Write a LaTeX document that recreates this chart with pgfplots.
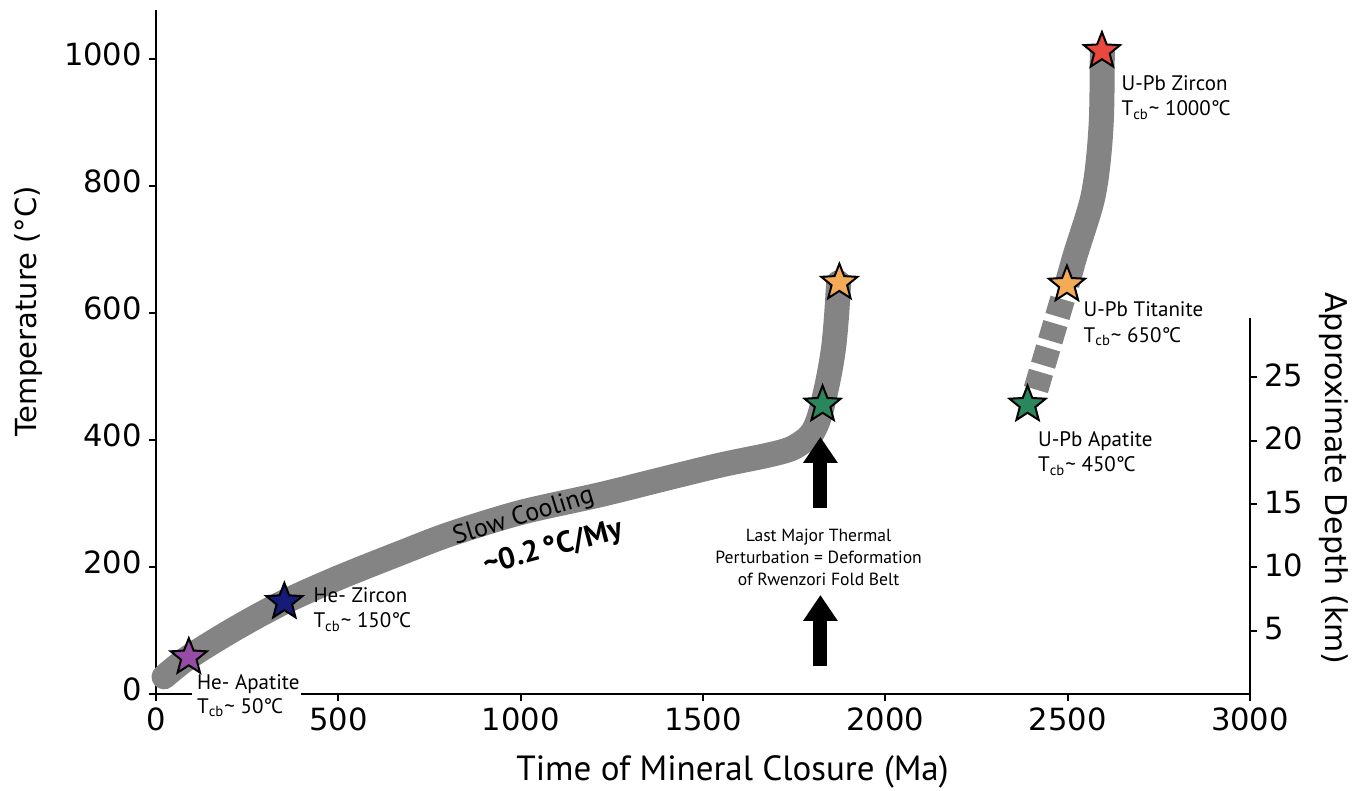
\documentclass[border=0pt]{standalone}
\usepackage{fontspec}
\setmainfont{PT Sans}
\newfontfamily\dejavu{DejaVu Sans}
\usepackage{pgfplots}
\pgfplotsset{compat=1.18}
\usetikzlibrary{arrows.meta}

\definecolor{band}{RGB}{132,132,132}
\definecolor{sPurple}{RGB}{150,75,165}
\definecolor{sNavy}{RGB}{20,28,120}
\definecolor{sGreen}{RGB}{42,135,92}
\definecolor{sOrange}{RGB}{245,170,85}
\definecolor{sRed}{RGB}{232,72,62}

\pgfdeclareplotmark{fstar}{%
 \pgfpathmoveto{\pgfpointpolar{90}{\pgfplotmarksize}}%
 \pgfpathlineto{\pgfpointpolar{126}{0.43\pgfplotmarksize}}%
 \pgfpathlineto{\pgfpointpolar{162}{\pgfplotmarksize}}%
 \pgfpathlineto{\pgfpointpolar{198}{0.43\pgfplotmarksize}}%
 \pgfpathlineto{\pgfpointpolar{234}{\pgfplotmarksize}}%
 \pgfpathlineto{\pgfpointpolar{270}{0.43\pgfplotmarksize}}%
 \pgfpathlineto{\pgfpointpolar{306}{\pgfplotmarksize}}%
 \pgfpathlineto{\pgfpointpolar{342}{0.43\pgfplotmarksize}}%
 \pgfpathlineto{\pgfpointpolar{18}{\pgfplotmarksize}}%
 \pgfpathlineto{\pgfpointpolar{54}{0.43\pgfplotmarksize}}%
 \pgfpathclose
 \pgfusepathqfillstroke}

\newcommand\ann{\fontsize{10.5}{12}\selectfont}
\newcommand\Tcb{T\textsubscript{cb}}
\newcommand\degC{{°\kern-.06em C}}

\begin{document}
\begin{tikzpicture}
\begin{axis}[
 at={(0,0)}, anchor=south west,
 scale only axis, width=547pt, height=342pt,
 xmin=0, xmax=3000, ymin=0, ymax=1077.7,
 axis x line=bottom, axis y line=left,
 axis line style={-, line width=1.4pt},
 xtick={0,500,...,3000}, ytick={0,200,...,1000},
 tick align=outside, major tick length=3.5pt,
 tick style={line width=1pt, black},
 tick label style={font=\dejavu\fontsize{15.3}{18}\selectfont},
 yticklabel style={yshift=2.5pt},
 /pgf/number format/assume math mode=true,
 /pgf/number format/1000 sep={},
 clip=false,
]
% main cooling path
\addplot[band, line width=12.5pt, line cap=round, line join=round, smooth, tension=0.5]
 coordinates {(22,27) (90,58) (220,104) (352,145) (500,183) (670,222) (807,252)
 (1000,286) (1218,314) (1400,340) (1550,361) (1676,376) (1740,386) (1780,400)
 (1800,412) (1815,430) (1828,456) (1845,500) (1858,545) (1866,594) (1872,648)};
% right path
\addplot[band, line width=12.5pt, line cap=butt, line join=round, smooth, tension=0.5]
 coordinates {(2498,645) (2520,690) (2540,726) (2556,755) (2568,780) (2577,808)
 (2583,835) (2588,865) (2592,900) (2594,940) (2595,1013)};
\addplot[band, line width=12.5pt, line cap=butt, dash pattern=on 9pt off 3.7pt]
 coordinates {(2486,622) (2410,474)};
% stars
\addplot[only marks, mark=fstar, mark size=9.5pt, mark options={fill=sPurple, draw=black, line width=1pt}] coordinates {(90,58)};
\addplot[only marks, mark=fstar, mark size=9.5pt, mark options={fill=sNavy, draw=black, line width=1pt}] coordinates {(352,145)};
\addplot[only marks, mark=fstar, mark size=9.5pt, mark options={fill=sGreen, draw=black, line width=1pt}] coordinates {(1828,456) (2390,456)};
\addplot[only marks, mark=fstar, mark size=9.5pt, mark options={fill=sOrange, draw=black, line width=1pt}] coordinates {(1874,648) (2498,645)};
\addplot[only marks, mark=fstar, mark size=9.5pt, mark options={fill=sRed, draw=black, line width=1pt}] coordinates {(2594,1013)};
% arrows
\draw[line width=7pt, -{Triangle[width=16.5pt,length=13pt]}] (axis cs:1822,293) -- (axis cs:1822,405);
\draw[line width=7pt, -{Triangle[width=16.5pt,length=13pt]}] (axis cs:1822,44) -- (axis cs:1822,156);
% labels
\fill[white] (axis cs:100,-7) rectangle (axis cs:398,7);
\node[anchor=base west, font=\ann, inner sep=0pt] at (axis cs:111.7,6.3) {He- Apatite};
\node[anchor=base west, font=\ann, inner sep=0pt] at (axis cs:111.7,-30.2) {\Tcb\textasciitilde\ 50\degC};
\node[anchor=base west, font=\ann, inner sep=0pt] at (axis cs:431,143.4) {He- Zircon};
\node[anchor=base west, font=\ann, inner sep=0pt] at (axis cs:431,104) {\Tcb\textasciitilde\ 150\degC};
\node[anchor=base west, font=\ann, inner sep=0pt] at (axis cs:2647,950.5) {U-Pb Zircon};
\node[anchor=base west, font=\ann, inner sep=0pt] at (axis cs:2647,910.7) {\Tcb\textasciitilde\ 1000\degC};
\node[anchor=base west, font=\ann, inner sep=0pt] at (axis cs:2543,594.5) {U-Pb Titanite};
\node[anchor=base west, font=\ann, inner sep=0pt] at (axis cs:2543,553.5) {\Tcb\textasciitilde\ 650\degC};
\node[anchor=base west, font=\ann, inner sep=0pt] at (axis cs:2418,389.6) {U-Pb Apatite};
\node[anchor=base west, font=\ann, inner sep=0pt] at (axis cs:2418,350.2) {\Tcb\textasciitilde\ 450\degC};
\node[align=center, font=\fontsize{8.8}{10.85}\selectfont, inner sep=0pt] at (axis cs:1817,215) {Last Major Thermal\\Perturbation = Deformation\\of Rwenzori Fold Belt};
\node[rotate=17, font=\fontsize{13}{15}\selectfont, inner sep=0pt] at (axis cs:1008,279) {Slow Cooling};
\node[rotate=15, font=\bfseries\fontsize{15}{18}\selectfont, inner sep=0pt] at (axis cs:1090,229.5) {\textasciitilde0.2\,°C/My};
% axis titles
\node[rotate=90, anchor=base, font=\dejavu\fontsize{14.5}{17}\selectfont, inner sep=0pt] at (axis cs:-326.6,603) {Temperature (°C)};
\node[rotate=-90, anchor=base, font=\dejavu\fontsize{15}{18}\selectfont, inner sep=0pt] at (axis cs:3208,339.5) {Approximate Depth (km)};
\node[anchor=base, font=\fontsize{17.5}{20}\selectfont, inner sep=0pt] at (axis cs:1581,-137) {Time of Mineral Closure (Ma)};
\end{axis}
\begin{axis}[
 at={(0,0)}, anchor=south west,
 scale only axis, width=547pt, height=188pt,
 xmin=0, xmax=3000, ymin=0, ymax=29.7,
 axis x line=none, axis y line=right,
 axis line style={-, line width=1.4pt},
 ytick={5,10,15,20,25},
 tick align=outside, major tick length=3.5pt,
 tick style={line width=1pt, black},
 tick label style={font=\dejavu\fontsize{15.3}{18}\selectfont},
 yticklabel style={yshift=1pt},
 /pgf/number format/assume math mode=true,
]
\end{axis}
\pgfresetboundingbox
\path[use as bounding box] (-78pt,-48.5pt) rectangle (605.5pt,347pt);
\end{tikzpicture}
\end{document}
